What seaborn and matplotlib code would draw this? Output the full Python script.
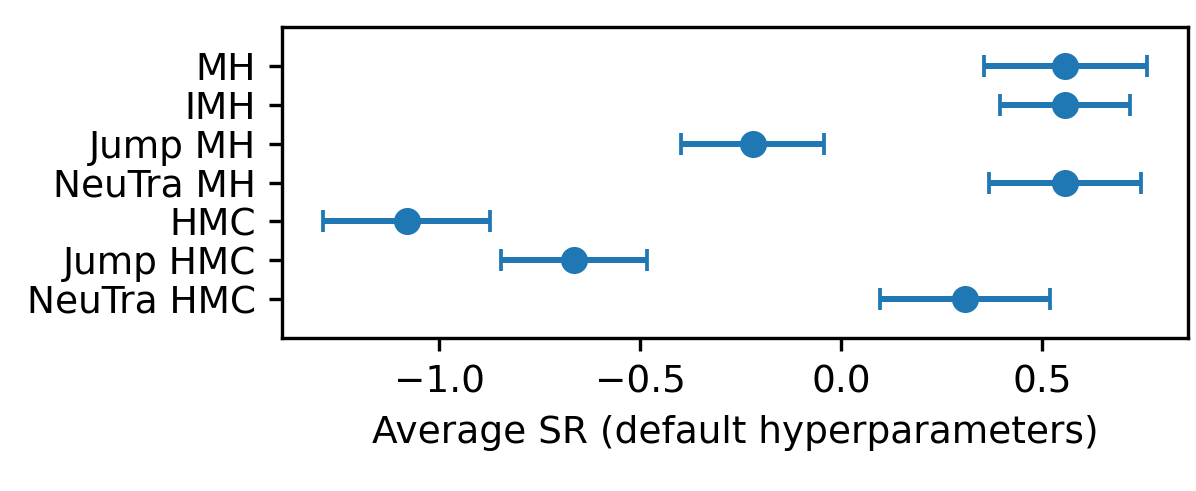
import numpy as np
import matplotlib
matplotlib.use("Agg")
import matplotlib.pyplot as plt
import seaborn as sns

# Samplers (top to bottom) and their average SR with interval bounds
methods = ["MH", "IMH", "Jump MH", "NeuTra MH", "HMC", "Jump HMC", "NeuTra HMC"]
sr_mean = [0.557, 0.557, -0.220, 0.557, -1.081, -0.664, 0.308]
sr_low = [0.355, 0.396, -0.399, 0.368, -1.289, -0.846, 0.097]
sr_high = [0.760, 0.718, -0.044, 0.746, -0.874, -0.484, 0.519]

sns.set_style("ticks", rc={
    "axes.edgecolor": "black",
    "axes.labelcolor": "black",
    "text.color": "black",
    "xtick.color": "black",
    "ytick.color": "black",
})
plt.rcParams["font.family"] = ["DejaVu Sans"]
plt.rcParams["font.size"] = 10
plt.rcParams["axes.linewidth"] = 0.9

DPI = 270

# Set up the figure
fig = plt.figure(figsize=(1196 / DPI, 491 / DPI), dpi=DPI)
ax = fig.add_axes([0.2358, 0.3116, 0.7575, 0.6334])

ypos = np.arange(len(methods))
mean = np.array(sr_mean)
xerr = np.vstack([mean - np.array(sr_low), np.array(sr_high) - mean])

# Error bars, then the points on top
ax.errorbar(mean, ypos, xerr=xerr, fmt="none", ecolor="#1f77b4",
            elinewidth=1.6, capsize=3, capthick=1.0)
sns.scatterplot(x=mean, y=ypos, ax=ax, color="#1f77b4", s=52,
                edgecolor="#1f77b4", linewidth=0, zorder=3)

ax.set_yticks(ypos)
ax.set_yticklabels(methods)
ax.set_ylim(len(methods), -1)
ax.set_xticks([-1.0, -0.5, 0.0, 0.5])
ax.set_xlabel("Average SR (default hyperparameters)")
ax.tick_params(length=3.5, width=0.9)

for s in ax.spines.values():
    s.set_visible(True)

plt.savefig("out.png", dpi=DPI)
plt.close()
